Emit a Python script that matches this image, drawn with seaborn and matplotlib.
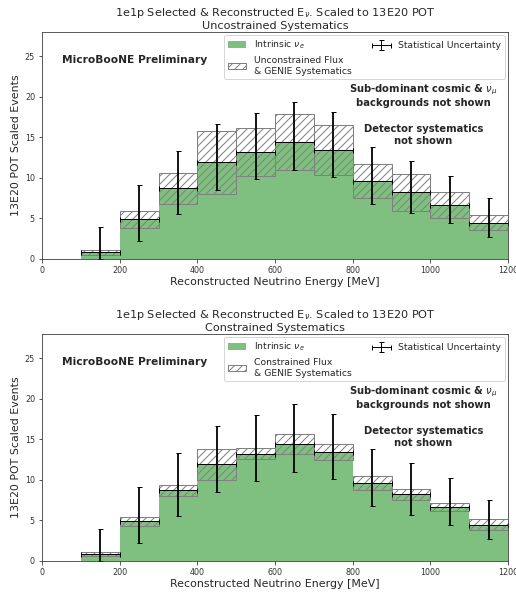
import numpy as np
import pandas as pd
import matplotlib
matplotlib.use("Agg")
import matplotlib.pyplot as plt
from matplotlib.container import ErrorbarContainer
from matplotlib.legend_handler import HandlerErrorbar
import seaborn as sns

# Reconstructed neutrino energy bins [MeV]
bin_edges = [100, 200, 300, 400, 500, 600, 700, 800, 900, 1000, 1100, 1200]
bin_centers = [150, 250, 350, 450, 550, 650, 750, 850, 950, 1050, 1150]

# Intrinsic nu_e prediction, scaled to 13E20 POT
nue_events = [0.85, 4.90, 8.72, 11.92, 13.23, 14.45, 13.45, 9.65, 8.22, 6.65, 4.50]

# Statistical uncertainty (asymmetric)
stat_up = [3.15, 4.18, 4.63, 4.76, 4.80, 4.95, 4.70, 4.13, 3.81, 3.60, 3.06]
stat_down = [0.85, 2.70, 3.12, 3.44, 3.38, 3.50, 3.30, 2.81, 2.52, 2.20, 1.81]

# Flux & GENIE systematics (half width of the band)
syst_unconstrained = [0.30, 1.08, 1.94, 3.87, 2.99, 3.46, 3.11, 2.09, 2.25, 1.56, 0.90]
syst_constrained = [0.27, 0.53, 0.70, 1.93, 0.68, 1.20, 1.03, 0.85, 0.66, 0.51, 0.66]

x_ticks = [0, 200, 400, 600, 800, 1000, 1200]
y_ticks = [0, 5, 10, 15, 20, 25]

panels = [
    ("Uncostrained Systematics", "Unconstrained Flux\n& GENIE Systematics", syst_unconstrained),
    ("Constrained Systematics", "Constrained Flux\n& GENIE Systematics", syst_constrained),
]

sns.set_style("ticks")
plt.rcParams["font.family"] = ["DejaVu Sans"]
plt.rcParams["hatch.color"] = "gray"
plt.rcParams["hatch.linewidth"] = 1.0

W, H = 516, 596
fig = plt.figure(figsize=(W / 72, H / 72), dpi=72)

green = (0.0, 0.5, 0.0)
df = pd.DataFrame({"energy": bin_centers, "events": nue_events})

axes_px = [(42, 32, 508, 259), (42, 334, 508, 561)]

for (subtitle, syst_label, syst), (x0, y0, x1, y1) in zip(panels, axes_px):
    ax = fig.add_axes([x0 / W, 1 - y1 / H, (x1 - x0) / W, (y1 - y0) / H])

    # Central intrinsic nu_e histogram
    sns.histplot(data=df, x="energy", weights="events", bins=bin_edges,
                 color=green, alpha=0.5, linewidth=0, element="bars",
                 ax=ax, label="Intrinsic $\\nu_e$")

    # Systematic band as hatched boxes around the central value
    lo = [v - s for v, s in zip(nue_events, syst)]
    ax.bar(bin_centers, [2 * s for s in syst], bottom=lo, width=100,
           fill=False, hatch="///", edgecolor="gray", linewidth=1.0,
           label=syst_label)

    # Statistical uncertainty: thick vertical bars, thin bin-width line
    eb = ax.errorbar(bin_centers, nue_events, yerr=[stat_down, stat_up], xerr=50,
                     fmt="none", ecolor="black", elinewidth=1.8, capsize=2.5,
                     capthick=1.0, label="Statistical Uncertainty")
    xerr_lines, yerr_lines = eb.lines[2]
    xerr_lines.set_linewidth(1.0)

    ax.set_xlim(0, 1200)
    ax.set_ylim(0, 28)
    ax.set_xticks(x_ticks)
    ax.set_yticks(y_ticks)
    ax.tick_params(labelsize=8, length=3.5, width=0.8, colors="#333333")
    for sp in ax.spines.values():
        sp.set_visible(True)
        sp.set_color("#333333")
        sp.set_linewidth(0.8)

    ax.set_xlabel("Reconstructed Neutrino Energy [MeV]", fontsize=11, labelpad=2)
    ax.set_ylabel("13E20 POT Scaled Events", fontsize=11, labelpad=4)
    ax.set_title("1e1p Selected & Reconstructed E$_{\\nu}$. Scaled to 13E20 POT\n" + subtitle,
                 fontsize=11.3, pad=3, linespacing=1.1)

    handles, labels = ax.get_legend_handles_labels()
    ax.legend(handles, labels, loc="upper right", ncol=2, fontsize=9.3,
              handlelength=2.0, columnspacing=2.2, borderaxespad=0.35,
              handler_map={ErrorbarContainer: HandlerErrorbar(xerr_size=1.0, yerr_size=0.55)})

    ax.text(0.043, 0.877, "MicroBooNE Preliminary", transform=ax.transAxes,
            fontsize=10.6, fontweight="bold", ha="left", va="center")
    ax.text(0.818, 0.722, "Sub-dominant cosmic & $\\nu_\\mu$\nbackgrounds not shown",
            transform=ax.transAxes, fontsize=10, fontweight="bold",
            ha="center", va="center")
    ax.text(0.818, 0.546, "Detector systematics\nnot shown",
            transform=ax.transAxes, fontsize=10, fontweight="bold",
            ha="center", va="center")

fig.savefig("out.png", dpi=72)
